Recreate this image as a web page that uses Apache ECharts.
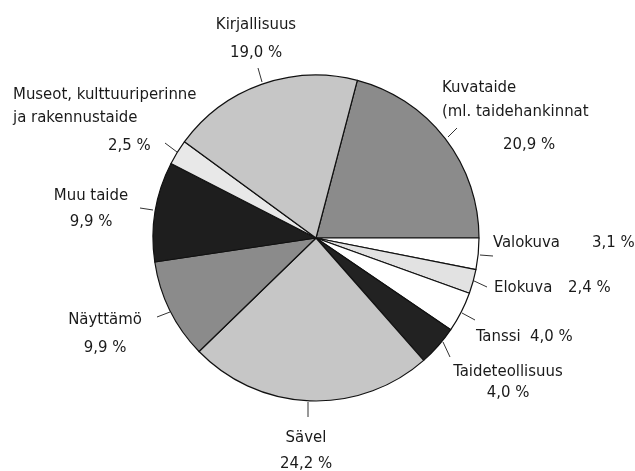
<!DOCTYPE html>
<html>
<head>
<meta charset="utf-8">
<script src="https://cdn.jsdelivr.net/npm/echarts@6/dist/echarts.min.js"></script>
<style>
html,body{margin:0;padding:0;background:#fff;}
#c{width:635px;height:471px;}
</style>
</head>
<body>
<div id="c"></div>
<script>
// ---- data ----
var categories = ['Kuvataide', 'Valokuva', 'Elokuva', 'Tanssi', 'Taideteollisuus', 'Sävel', 'Näyttämö', 'Muu taide', 'Museot, kulttuuriperinne ja rakennustaide', 'Kirjallisuus'];
var labelNames = ['Kuvataide\n(ml. taidehankinnat', 'Valokuva', 'Elokuva', 'Tanssi', 'Taideteollisuus', 'Sävel', 'Näyttämö', 'Muu taide', 'Museot, kulttuuriperinne\nja rakennustaide', 'Kirjallisuus'];
var values = [20.9, 3.1, 2.4, 4.0, 4.0, 24.2, 9.9, 9.9, 2.5, 19.0];

// ---- styles ----
var colors = ['#8b8b8b', '#ffffff', '#e2e2e2', '#ffffff', '#222222', '#c6c6c6', '#8b8b8b', '#1e1e1e', '#e8e8e8', '#c6c6c6'];
// label layout: style key, anchor, alignment, label line points
var layout = [
  {s:'kuva', x:442, y:76,  align:'left',   va:'top',    line:[[448,137],[457,128]]},
  {s:'vl',   x:493, y:243, align:'left',   va:'middle', line:[[480,255],[493,256]]},
  {s:'el',   x:494, y:288, align:'left',   va:'middle', line:[[472,280],[487,287]]},
  {s:'ta',   x:476, y:337, align:'left',   va:'middle', line:[[462,313],[475,320]]},
  {s:'two21',x:508, y:382, align:'center', va:'middle', line:[[443,342],[450,357]]},
  {s:'two26',x:306, y:451, align:'center', va:'middle', line:[[308,402],[308,417]]},
  {s:'two28',x:105, y:334, align:'center', va:'middle', line:[[170,312],[157,317]]},
  {s:'two26',x:91,  y:209, align:'center', va:'middle', line:[[153,210],[140,208]]},
  {s:'mus',  x:13,  y:83,  align:'left',   va:'top',    line:[[177,152],[165,143]]},
  {s:'two28',x:256, y:39,  align:'center', va:'middle', line:[[262,82],[258,68]]}
];

function pct(v){ return v.toFixed(1).replace('.', ',') + ' %'; }

var total = values.reduce(function(a,b){return a+b;},0);
var startAngle = values[0] / total * 360;

var FONT = '"Liberation Sans Narrow","DejaVu Sans Condensed","Liberation Sans",sans-serif';
var FS = 16.6;
var TC = '#1a1a1a';
function st(o){ o.fontFamily = FONT; o.fontSize = FS; o.color = TC; return o; }

var chart = echarts.init(document.getElementById('c'), null, {renderer:'canvas'});
chart.setOption({
  backgroundColor:'#ffffff',
  animation:false,
  series:[{
    type:'pie',
    center:[316,238],
    radius:163,
    startAngle:startAngle,
    clockwise:true,
    avoidLabelOverlap:false,
    data: values.map(function(v,i){
      return {name:categories[i], value:v, itemStyle:{color:colors[i]}};
    }),
    itemStyle:{borderColor:'#111', borderWidth:1.2},
    label:{
      show:true,
      position:'outside',
      color:TC,
      fontFamily:FONT,
      fontSize:FS,
      formatter:function(p){
        var i = p.dataIndex, L = layout[i], nm = labelNames[i], pv = pct(values[i]);
        if (L.s === 'kuva') {
          var ls = nm.split('\n');
          return '{n24|' + ls[0] + '}\n{n24|' + ls[1] + '}\n{kp|' + pv + '}';
        }
        if (L.s === 'mus') {
          var ms = nm.split('\n');
          return '{n23|' + ms[0] + '}\n{n23|' + ms[1] + '}\n{mp|' + pv + '}';
        }
        if (L.s === 'vl' || L.s === 'el' || L.s === 'ta') {
          return '{' + L.s + '|' + nm + '}{r|' + pv + '}';
        }
        return '{' + L.s + '|' + nm + '}\n{' + L.s + '|' + pv + '}';
      },
      rich:{
        n24:st({lineHeight:24}),
        kp:st({lineHeight:42, padding:[0,0,0,61]}),
        n23:st({lineHeight:23}),
        mp:st({lineHeight:33, padding:[0,0,0,95]}),
        vl:st({width:99}),
        el:st({width:74}),
        ta:st({width:54}),
        r:st({}),
        two21:st({lineHeight:21}),
        two26:st({lineHeight:26}),
        two28:st({lineHeight:28})
      }
    },
    labelLine:{show:true, length:8, length2:8, lineStyle:{color:'#333', width:1}},
    labelLayout:function(params){
      var L = layout[params.dataIndex];
      return {x:L.x, y:L.y, align:L.align, verticalAlign:L.va, labelLinePoints:L.line};
    },
    emphasis:{disabled:true}
  }]
});
</script>
</body>
</html>
